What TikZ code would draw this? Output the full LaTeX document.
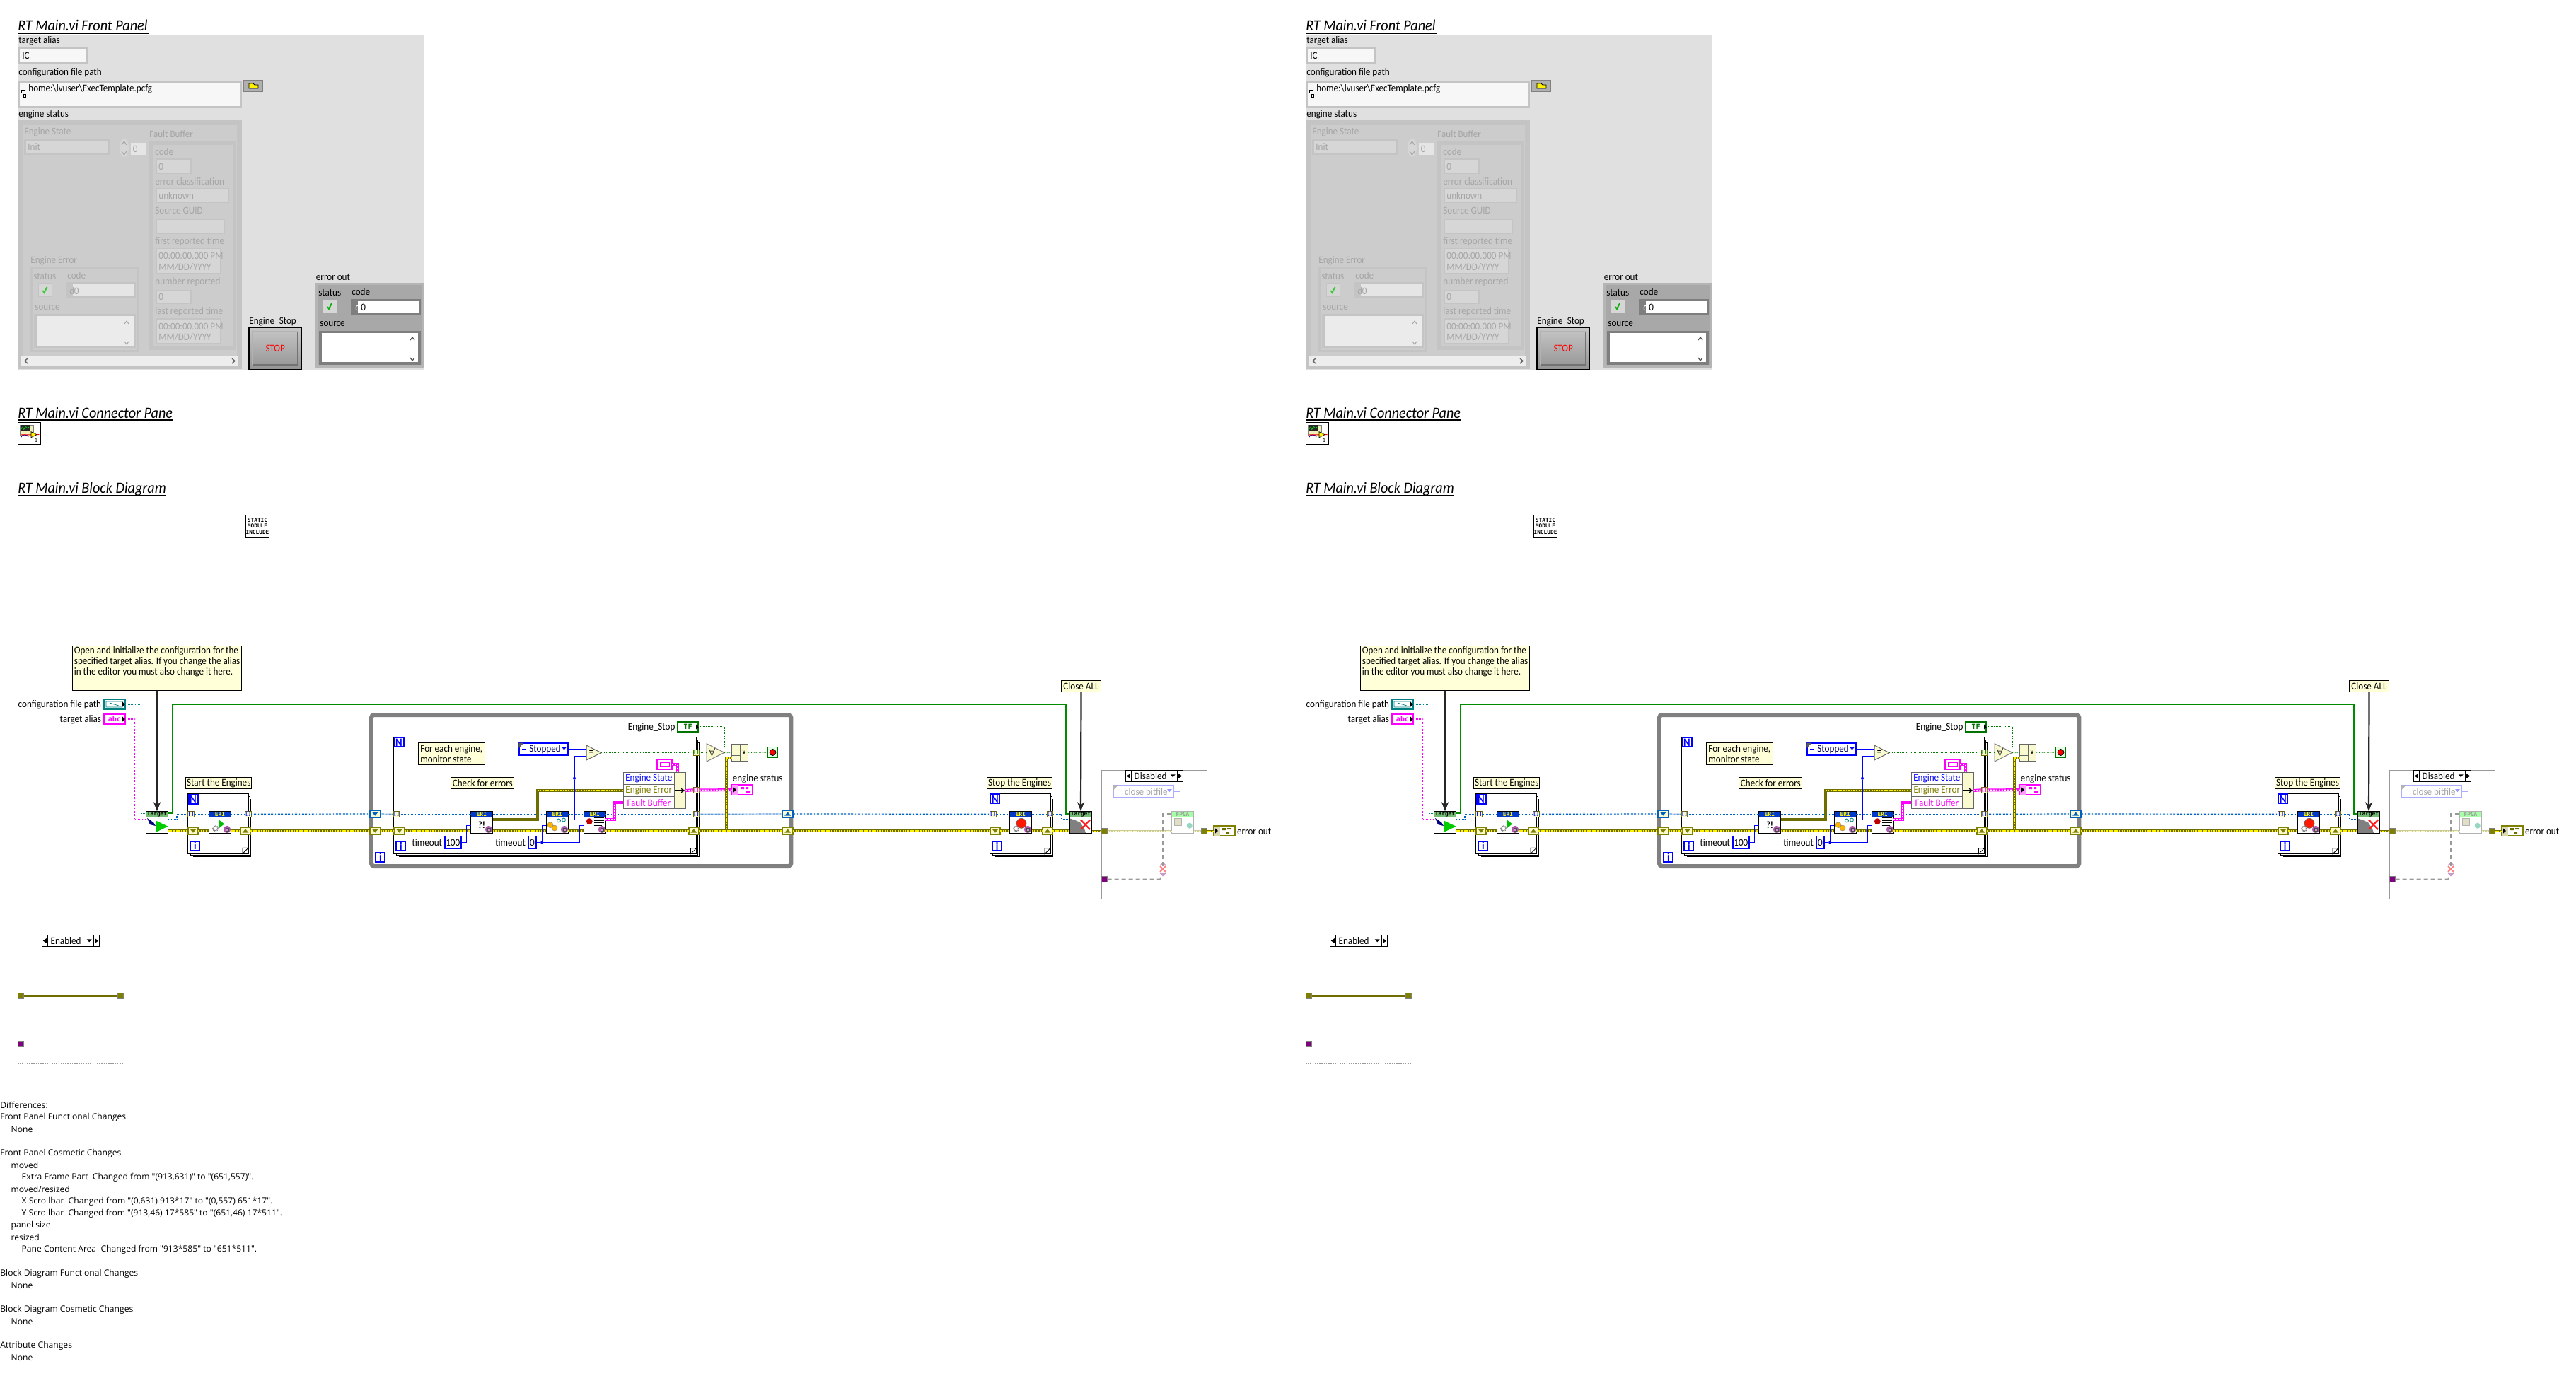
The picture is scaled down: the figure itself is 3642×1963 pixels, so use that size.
\documentclass[tikz,border=0pt]{standalone}
\usepackage{fontspec}
\setmainfont{Carlito}[FakeStretch=0.91]
\newfontfamily\difffont{Open Sans}
\newfontfamily\iconfont{DejaVu Sans Mono}
\usetikzlibrary{arrows.meta}

\definecolor{fpbg}{HTML}{E0E0E0}
\definecolor{fpbevel}{HTML}{C4C4C4}
\definecolor{fpinner}{HTML}{CCCCCC}
\definecolor{fpfield}{HTML}{D6D6D6}
\definecolor{fpghost}{HTML}{A6A6A6}
\definecolor{errgrey}{HTML}{A8A8A8}
\definecolor{notey}{HTML}{FFFFD8}
\definecolor{lvteal}{HTML}{008080}
\definecolor{lvpink}{HTML}{FF00FF}
\definecolor{lvolive}{HTML}{808000}
\definecolor{lvrefb}{HTML}{0060C0}
\definecolor{lvgreen}{HTML}{007A00}
\definecolor{lvpurple}{HTML}{800080}
\definecolor{lvbeige}{HTML}{FAFAD0}
\definecolor{lvhead}{HTML}{0038C8}
\definecolor{lvgold}{HTML}{6E6E00}

\tikzset{
  sized/.style 2 args={minimum width={(#1)*.5pt},minimum height={(#2)*.5pt},inner sep=0pt,outer sep=0pt},
  lvtext/.style={font=\fontsize{7.2}{8}\selectfont,inner sep=0pt,text=#1},
  lvtext/.default=black,
  fpt/.style={lvtext,anchor=west},
  ght/.style={lvtext=fpghost,anchor=west},
  titletext/.style={font=\fontsize{11.1}{12}\selectfont\itshape,inner sep=0pt,anchor=base west},
  difftext/.style={font=\difffont\fontsize{6.05}{7}\selectfont,inner sep=0pt,anchor=west},
  lvnote/.style={draw=black,fill=notey,line width=.5pt,font=\fontsize{7.2}{7.5}\selectfont,inner sep=0pt},
  ctbox/.style={draw=blue,line width=1pt,fill=white,text=blue,font=\fontsize{8}{9}\selectfont\bfseries,sized={13}{13}},
  viicon/.style={draw=black,fill=white,line width=.5pt,sized={31.4}{31.4}},
  tunbox/.style={draw=#1,fill=lvbeige,line width=.5pt,sized={7.6}{7.6},font=\iconfont\fontsize{3.6}{4}\bfseries\selectfont,text=blue},
  tunbox/.default=lvgold,
  srnode/.style={draw=#1,fill=lvbeige,line width=1pt,sized={14.5}{10}},
  term/.style={draw=#1,fill=white,line width=1pt,sized={29.5}{13.8}},
  datatun/.style={draw=#1,fill=#1,sized={8.4}{8.4}},
  wireblue/.style={draw=blue,line width=.6pt},
  wireref/.style={draw=lvrefb,line width=.6pt,dash pattern=on .5pt off .5pt},
  wireteal/.style={draw=lvteal,line width=.6pt,dash pattern=on .6pt off .4pt},
  wirepath/.style={draw=lvpink,line width=.7pt,dash pattern=on .6pt off .4pt},
  wirebool/.style={draw=lvgreen,line width=.6pt,dash pattern=on .5pt off .6pt},
  wiregreen/.style={draw=green!55!black,line width=.55pt},
  wireerr/.style={draw=lvgold,line width=1.9pt,postaction={draw=yellow,line width=.8pt,dash pattern=on 1pt off .8pt}},
  wireghost/.style={draw=lvolive!40,line width=1.9pt,postaction={draw=lvbeige,line width=.8pt,dash pattern=on 1pt off .8pt}},
  wirepink/.style={draw=lvpink,line width=2pt,postaction={draw=white,line width=.7pt,dash pattern=on 1pt off 1pt}},
  wirenote/.style={draw=black!85,line width=1.1pt,-{Stealth[length=6.5pt,width=5pt]}},
  jdot/.style={circle,fill=#1,sized={4}{4}},
}

% a stacked loop with its N and i
\newcommand{\lvloop}[5]{
  \draw[fill=white,line width=.5pt] ({#2+8},{#3+8}) rectangle ({#4+3.6},{#5+4.2});
  \draw[fill=white,line width=.5pt] ({#2+4},{#3+4}) rectangle ({#4+2},{#5+2.2});
  \draw ({(#2+#4)/2},{(#3+#5)/2}) node[draw=black,fill=white,line width=.5pt,sized={#4-#2}{#5-#3}] (#1) {};
  \draw[fill=white,line width=.4pt] ({#4-8},#5) -- (#4,{#5-8}) -- ({#4-8},{#5-8}) -- cycle;
  \draw ({#2+7.6},{#3+7.6}) node[ctbox] (#1-N) {N};
  \draw ({#2+10.4},{#5-11}) node[ctbox] (#1-i) {i};
}
% shift register, #5 is 1 for down and -1 for up
\newcommand{\lvreg}[5]{
  \draw (#2,#3) node[srnode=#4] (#1) {};
  \fill[#4] ({#2-4.5},{#3-2.6*#5}) -- ({#2+4.5},{#3-2.6*#5}) -- (#2,{#3+2.6*#5}) -- cycle;
}
% small vi with a coloured header
\newcommand{\lvvi}[7]{
  \draw (#2,#3) node[viicon,draw=#4] (#1) {};
  \filldraw[fill=#5,draw=#4,line width=.5pt] ({#2-15.7},{#3-15.7}) rectangle ({#2+15.7},{#3-7.4});
  \draw (#2,{#3-11.5}) node[font=\iconfont\fontsize{3.9}{4}\bfseries\selectfont,text=#6,inner sep=0pt] (#1-t) {#7};
}
\newcommand{\lvcog}[2]{
  \fill[violet!65] (#1,#2) circle (2.6pt);
  \draw[black!70,line width=.3pt,fill=violet!40] ({#1-2.2},{#2-2}) rectangle ({#1+2.2},{#2+2.4});
}
% frame selector
\newcommand{\lvsel}[5]{
  \draw ({(#2+#3)/2},#4) node[draw=black,fill=white,line width=.5pt,sized={#3-#2}{16}] (#1) {};
  \draw[line width=.5pt] ({#2+8.3},{#4-8}) -- ({#2+8.3},{#4+8});
  \draw[line width=.5pt] ({#3-8.3},{#4-8}) -- ({#3-8.3},{#4+8});
  \fill ({#2+1.5},#4) -- ({#2+6.5},{#4-3.4}) -- ({#2+6.5},{#4+3.4}) -- cycle;
  \fill ({#3-1.5},#4) -- ({#3-6.5},{#4-3.4}) -- ({#3-6.5},{#4+3.4}) -- cycle;
  \fill ({#3-18},{#4-2.2}) -- ({#3-11},{#4-2.2}) -- ({#3-14.5},{#4+1.8}) -- cycle;
  \draw ({#2+12},#4) node[lvtext,anchor=west] (#1-t) {#5};
}
\newcommand{\lvbevel}[7]{
  \fill[#5] (#1,#2) rectangle (#3,#4);
  \fill[#6] ({#1+#7},{#2+#7}) rectangle ({#3-#7},{#4-#7});
}
\newcommand{\lvcheck}[3]{
  \draw[#3,line width=.9pt] ({#1-3},{#2+1}) -- ({#1-1},{#2+4}) -- ({#1+3},{#2-4});
}

\begin{document}
\begin{tikzpicture}[x=.5pt,y=-.5pt]
\useasboundingbox (0,0) rectangle (3642,1963);
\foreach \p/\dx in {L/0,R/1821}{
\begin{scope}[shift={(\dx,0)}]

% front panel
\draw (25,44) node[titletext] (\p-fptitle) {RT Main.vi Front Panel};
\fill (25,45.8) rectangle (210,47.6);
\fill[fpbg] (25,49) rectangle (600,522.7);
\draw (26,58) node[fpt] (\p-fpa) {target alias};
\lvbevel{25}{66.5}{124.5}{90}{fpbevel}{white!97!black}{3.2}
\draw (31,78.5) node[fpt] (\p-fpb) {IC};
\draw (26,103) node[fpt] (\p-fpc) {configuration file path};
\lvbevel{25}{113.6}{342}{153}{fpbevel}{white!97!black}{3}
\fill[white!97!black] (37.5,117) rectangle (339,150);
\draw (40,126) node[fpt] (\p-fpd) {home:\textbackslash lvuser\textbackslash ExecTemplate.pcfg};
\draw[line width=.5pt] (30,128) rectangle (35,132) (32.5,132) -- (32.5,134) (33,134) rectangle (36,138);
\filldraw[fill=fpbevel!90!black,draw=black!50,line width=.3pt] (344.5,113) rectangle (371.5,129.5);
\filldraw[fill=yellow,draw=black,line width=.4pt] (352,118) -- (358,118) -- (360,120) -- (365,120) -- (365,125) -- (352,125) -- cycle;
\draw (26,162) node[fpt] (\p-fpe) {engine status};

\lvbevel{25}{170.5}{342}{521.7}{fpbevel}{fpinner}{7}
\fill[white!93!black] (29,503) rectangle (337,518);
\draw[line width=.7pt,black!60] (39,507) -- (35,510.5) -- (39,514) (328,507) -- (332,510.5) -- (328,514);
\draw (34,187) node[ght] (\p-fpf) {Engine State};
\lvbevel{34}{197}{155}{218.7}{fpbevel}{fpfield}{2.5}
\draw (39,208) node[ght] (\p-fpg) {Init};
\fill[fpfield] (175.5,209) ellipse (6.5 and 13);
\draw[fpghost,line width=.5pt] (172,205) -- (175.5,200) -- (179,205) (172,214) -- (175.5,219) -- (179,214);
\fill[white!90!black] (185,202.5) rectangle (207,219);
\draw (187.5,210.4) node[ght] (\p-fph) {0};

\draw (211,190) node[ght] (\p-fpi) {Fault Buffer};
\lvbevel{211}{199.7}{334}{495}{fpbevel}{fpinner}{5.5}
\draw (219,215) node[ght] (\p-fbcode) {code};
\lvbevel{220}{224.5}{270.6}{246}{fpbevel}{fpinner!80!white}{1.5}
\draw (224,236) node[ght] (\p-fbcodev) {0};
\draw (219,257) node[ght] (\p-fbcls) {error classification};
\lvbevel{220}{266}{324}{287.5}{fpbevel}{fpinner!80!white}{1.5}
\draw (224,277) node[ght] (\p-fbclsv) {unknown};
\draw (219,298) node[ght] (\p-fbgid) {Source GUID};
\lvbevel{220}{310}{317.5}{331}{fpbevel}{fpinner!80!white}{1.5}
\draw (219,342) node[ght] (\p-fbfirst) {first reported time};
\lvbevel{220}{351}{312}{387.4}{fpbevel}{fpinner!80!white}{1.5}
\draw (224,362) node[ght] (\p-fbfirsta) {00:00:00.000 PM};
\draw (224,378) node[ght] (\p-fbfirstb) {MM/DD/YYYY};
\draw (219,399) node[ght] (\p-fbnum) {number reported};
\lvbevel{220}{410}{270.6}{430.5}{fpbevel}{fpinner!80!white}{1.5}
\draw (224,419.4) node[ght] (\p-fbnumv) {0};
\draw (219,441) node[ght] (\p-fblast) {last reported time};
\lvbevel{220}{450.4}{312}{486.6}{fpbevel}{fpinner!80!white}{1.5}
\draw (224,461.4) node[ght] (\p-fblasta) {00:00:00.000 PM};
\draw (224,476.6) node[ght] (\p-fblastb) {MM/DD/YYYY};

\draw (43,369) node[ght] (\p-eetitle) {Engine Error};
\lvbevel{43}{378}{197}{497.6}{fpbevel}{fpinner}{3}
\draw (47,391) node[ght] (\p-eest) {status};
\draw (95,390) node[ght] (\p-eecode) {code};
\filldraw[fill=fpfield,draw=fpbevel,line width=.5pt] (54,401) rectangle (73,419.4);
\lvcheck{63.5}{410}{green!60!gray}
\lvbevel{94}{399.4}{192}{422}{fpbevel}{white!90!black}{3}
\fill[fpbevel] (94,399.4) rectangle (103,422);
\draw (98,411.5) node[ght] (\p-eed) {d};
\draw (104.5,411.5) node[ght] (\p-eeval) {0};
\draw (49,435) node[ght] (\p-eesrc) {source};
\lvbevel{48}{444}{192}{492.4}{fpbevel}{white!92!black}{3.5}
\draw[fpghost,line width=.5pt] (176,458) -- (179,454) -- (182,458) (176,483) -- (179,487) -- (182,483);

\draw (352,455) node[fpt] (\p-esl) {Engine\_Stop};
\draw (389.2,492.8) node[draw=black,top color=black!22,bottom color=black!42,line width=.7pt,sized={74.5}{59.7},text=red,font=\fontsize{7.2}{8}\selectfont] (\p-esb) {STOP};
\draw[white!70!black,line width=.6pt] (357,516) -- (357,469) -- (421,469);
\draw[black!55,line width=.6pt] (357,516) -- (421,516) -- (421,469);
\draw (446.5,392) node[fpt] (\p-erl) {error out};
\lvbevel{445}{400}{599}{520}{errgrey!85!white}{errgrey}{3.5}
\draw (450,414) node[fpt] (\p-erst) {status};
\draw (497,413) node[fpt] (\p-ercd) {code};
\filldraw[fill=fpfield,draw=black!35,line width=.5pt] (456,423.5) rectangle (476,442.5);
\lvcheck{466}{433}{green!70!black}
\lvbevel{496}{423}{595}{446}{errgrey!75!black}{white}{3}
\fill[errgrey!75!black] (496,423) rectangle (506,446);
\draw (502,434.6) node[lvtext=white,anchor=west] (\p-erd) {d};
\draw (510,434.6) node[fpt] (\p-erval) {0};
\draw (452,458) node[fpt] (\p-ersr) {source};
\lvbevel{451}{467.6}{595}{516}{errgrey!75!black}{white}{3.6}
\draw[black!70,line width=.6pt] (580,481) -- (583,477) -- (586,481) (580,506) -- (583,510) -- (586,506);

% connector pane
\draw (25,591.7) node[titletext] (\p-cptitle) {RT Main.vi Connector Pane};
\fill (25,593.4) rectangle (244,595.6);
\draw (41,613) node[draw=black,fill=white,line width=.5pt,sized={32}{31.4}] (\p-cpane) {};
\filldraw[fill=black!20!yellow!30!white,draw=black!50,line width=.2pt] (28.6,600.7) rectangle (47,616);
\fill[black!85] (29.4,601.3) rectangle (41.6,610);
\draw[green,line width=.3pt] (30,607) .. controls (32,600) and (33,612) .. (35,605) .. controls (37,600) and (38,610) .. (41,604);
\draw[blue!70!black,line width=.5pt] (30,618) arc (180:360:5 and 3);
\draw[red,line width=.5pt] (30,615) -- (55.5,614.7);
\filldraw[fill=yellow,draw=black,line width=.3pt] (44,610.7) -- (52,614.7) -- (44,618.7) -- cycle;
\draw (51,622.7) node[font=\fontsize{4.4}{5}\selectfont,inner sep=0pt] (\p-cpn) {1};

% block diagram
\draw (25,697.7) node[titletext] (\p-bdtitle) {RT Main.vi Block Diagram};
\fill (25,699.6) rectangle (235,702);
\draw (364,744) node[draw=black,fill=white,line width=.5pt,sized={31.6}{32},font=\iconfont\fontsize{3.9}{4.4}\bfseries\selectfont,align=center] (\p-incl) {STATIC\\MODULE\\INCLUDE};

% notes
\draw (222.2,945) node[lvnote,sized={239.5}{63.4}] (\p-note) {};
\draw (104.5,914.5) node[lvtext,anchor=north west,align=left,font=\fontsize{7.2}{7.5}\selectfont] (\p-notet) {Open and initialize the configuration for the\\specified target alias. If you change the alias\\in the editor you must also change it here.};
\draw (309.3,1107.5) node[lvnote,sized={92.7}{16.4}] (\p-nstart) {Start the Engines};
\draw (1441.5,1107.5) node[lvnote,sized={92.4}{16.4}] (\p-nstop) {Stop the Engines};
\draw (1528.5,970.5) node[lvnote,sized={56.4}{16.4}] (\p-nclose) {Close ALL};

% terminals
\draw (143.5,996.7) node[lvtext,anchor=east] (\p-cfgl) {configuration file path};
\draw (143.5,1017.7) node[lvtext,anchor=east] (\p-alil) {target alias};
\draw (162,996) node[term=lvteal] (\p-cfg) {};
\draw[lvteal,line width=.4pt] (150,992) rectangle (173,1000) (155,994) -- (168,998);
\draw (162,1017) node[term=lvpink,font=\iconfont\fontsize{5}{6}\bfseries\selectfont,text=lvpink] (\p-ali) {abc};
\fill (173,992.5) -- (177,996) -- (173,999.5) -- cycle;
\fill (173,1013.5) -- (177,1017) -- (173,1020.5) -- cycle;

% open target
\lvvi{\p-open}{222}{1163}{black}{green!35!gray!80!white}{black}{Target}
\fill[blue!50!black] (208,1157) -- (217,1163) -- (220,1168) -- (212,1166) -- cycle;
\fill[green!80!black] (220.7,1160.7) -- (237.5,1168.7) -- (220.7,1176.7) -- cycle;

% start loop
\lvloop{\p-sloop}{265.4}{1122.7}{351}{1207.3}
\draw (270,1151.3) node[tunbox] (\p-stunl) {[]};
\draw (350.8,1151.3) node[tunbox] (\p-stunr) {[]};
\lvreg{\p-syl}{273}{1175}{lvolive}{1}
\lvreg{\p-syr}{347}{1175}{lvolive}{-1}
\lvvi{\p-eris}{311}{1163}{black}{lvhead}{yellow}{ERI}
\fill[green!75!black] (309,1159) -- (317,1165.3) -- (309,1171.7) -- cycle;
\draw[gray,line width=.9pt,dash pattern=on .6pt off .4pt] (304.6,1171.7) circle (3.5);
\lvcog{321}{1173}

% outer while
\draw (821.7,1118) node[draw=black!50,line width=3pt,fill=white,rounded corners=2pt,sized={593.5}{214}] (\p-wloop) {};
\draw (537.8,1212) node[ctbox] (\p-wloopi) {i};
\lvreg{\p-bll}{530.3}{1151}{lvrefb}{1}
\lvreg{\p-yll}{530.3}{1175}{lvolive}{1}
\lvreg{\p-blr}{1113.7}{1151}{lvrefb}{-1}
\lvreg{\p-ylr}{1113.7}{1175}{lvolive}{-1}

% monitor loop
\lvloop{\p-mloop}{556.4}{1042.3}{984.4}{1207.7}
\draw (560.5,1151.3) node[tunbox] (\p-mtunl) {[]};
\draw (984.4,1151.3) node[tunbox] (\p-mtunr) {[]};
\draw (984.4,1064.5) node[tunbox,text=lvgreen] (\p-mtung) {[]};
\draw (984.4,1117.3) node[tunbox,text=lvpink] (\p-mtunp) {[]};
\lvreg{\p-myl}{564.5}{1175}{lvolive}{1}
\lvreg{\p-myr}{980.9}{1175}{lvolive}{-1}
\draw (638.3,1066) node[lvnote,sized={94.6}{31.4},align=left] (\p-nmon) {For each engine,\\monitor state};
\draw (682.3,1107.5) node[lvnote,sized={88.7}{16.4}] (\p-ncheck) {Check for errors};

\lvvi{\p-era}{681}{1163}{black}{lvhead}{yellow}{ERI}
\draw (681,1166.7) node[font=\fontsize{7}{8}\bfseries\selectfont,inner sep=0pt] (\p-eraq) {?!};
\lvcog{691}{1173}
\lvvi{\p-erb}{787.7}{1163}{black}{lvhead}{yellow}{ERI}
\filldraw[fill=orange!60!yellow,draw=black!50,line width=.2pt] (778,1166.7) circle (4) (784,1171) circle (4);
\draw[teal,line width=.4pt] (790,1160.5) circle (2.5) (797,1159.5) circle (2.5);
\lvcog{798}{1173}
\lvvi{\p-erc}{840.7}{1163}{black}{lvhead}{yellow}{ERI}
\fill[red!75!black] (833.3,1161.7) circle (2.2pt);
\draw[black,line width=.5pt] (839.5,1156.5) -- (854,1156.5) (839.5,1160) -- (854,1160) (839.5,1163.5) -- (854,1163.5) (839.5,1167) -- (851,1167);
\lvcog{851}{1173}

\draw (625.5,1191.7) node[lvtext,anchor=east] (\p-tola) {timeout};
\draw (640.3,1191.4) node[ctbox,line width=.9pt,font=\fontsize{7.2}{8}\selectfont,text=black,sized={23}{17.7}] (\p-tocna) {100};
\draw (743.3,1191.7) node[lvtext,anchor=east] (\p-tolb) {timeout};
\draw (752.4,1191.4) node[ctbox,line width=.9pt,font=\fontsize{7.2}{8}\selectfont,text=black,sized={10.8}{17.7}] (\p-tocnb) {0};
\coordinate (\p-erain) at (665.5,1167.3);
\coordinate (\p-erbin) at (772,1167.3);
\coordinate (\p-ercin) at (825,1167.3);
\coordinate (\p-eraout) at (696.7,1159.3);
\coordinate (\p-erbout) at (803.4,1159.3);
\coordinate (\p-ercout) at (856.4,1159);
\draw (766.2,1191.4) node[jdot=blue] (\p-jto) {};
\draw (812,1100.8) node[jdot=blue] (\p-jst) {};

\draw (768.6,1059.7) node[draw=blue,fill=white,line width=1pt,sized={69.4}{17},lvtext,anchor=center,text=blue!40!black] (\p-enum) {\hspace{2pt}Stopped\hspace{8pt}};
\fill[black!65] (733.4,1050.7) -- (740.5,1050.7) -- (733.4,1058) -- cycle;
\fill[blue] (794,1056.5) -- (801,1056.5) -- (797.5,1060.5) -- cycle;
\draw[blue,line width=.5pt] (738,1059.7) -- (743,1059.7);
\filldraw[fill=lvbeige,draw=black!60,line width=.5pt] (829,1054) -- (850,1064.7) -- (829,1075) -- cycle;
\draw (836,1064.7) node[font=\fontsize{7}{8}\bfseries\selectfont,inner sep=0pt] (\p-eqs) {=};
\coordinate (\p-eqa) at (829,1059.7);
\coordinate (\p-eqb) at (829,1069.7);
\coordinate (\p-eqo) at (850,1064.5);

% state unbundle
\draw (917.3,1100.8) node[draw=black!60,fill=white,line width=.5pt,sized={72}{17.2},lvtext,anchor=center,text=blue] (\p-rowa) {Engine State};
\draw (917.3,1118) node[draw=black!60,fill=white,line width=.5pt,sized={72}{17.2},lvtext,anchor=center,text=lvolive] (\p-rowb) {Engine Error};
\draw (917.3,1135.2) node[draw=black!60,fill=white,line width=.5pt,sized={72}{17.2},lvtext,anchor=center,text=lvpink] (\p-rowc) {Fault Buffer};
\draw (957.5,1118) node[draw=black!60,fill=lvbeige,line width=.5pt,sized={8.4}{51.4}] (\p-unba) {};
\draw (965.5,1118) node[draw=black!60,fill=lvbeige,line width=.5pt,sized={7.6}{51.4}] (\p-unbb) {};
\draw[black,line width=1pt,-{Stealth[length=3pt,width=3.5pt]}] (954.5,1118) -- (968.5,1118);
\draw (939.6,1081) node[term=lvpink,sized={21.7}{14.7}] (\p-ccst) {};
\draw[lvpink,line width=.4pt] (933,1078) rectangle (946,1084);

% engine stop and status
\draw (954.8,1029) node[lvtext,anchor=east] (\p-estopl) {Engine\_Stop};
\draw (972.7,1027.8) node[term=green!45!black,font=\iconfont\fontsize{5}{6}\bfseries\selectfont,text=green!45!black] (\p-estop) {TF};
\fill (984,1024.5) -- (988,1028) -- (984,1031.5) -- cycle;
\filldraw[fill=lvbeige,draw=black!50,line width=.5pt] (999,1051.7) -- (1024,1064.3) -- (999,1077) -- cycle;
\draw (1006.5,1064.4) node[font=\fontsize{8}{9}\selectfont,inner sep=0pt] (\p-ands) {$\forall$};
\coordinate (\p-anda) at (999,1064.5);
\coordinate (\p-ando) at (1024,1064.5);
\draw (1045.8,1064.3) node[draw=black!60,fill=lvbeige,line width=.5pt,sized={23.6}{24}] (\p-org) {};
\draw[black!60,line width=.5pt] (1046.5,1052.3) -- (1046.5,1076.3) (1034,1060.3) -- (1046.5,1060.3) (1034,1068.3) -- (1046.5,1068.3);
\draw (1052,1064) node[font=\fontsize{5}{6}\bfseries\selectfont,inner sep=0pt] (\p-orv) {v};
\coordinate (\p-orb) at (1034,1056.7);
\coordinate (\p-orc) at (1034,1072);
\draw (1092.5,1064) node[draw=green!45!black,fill=green!10,line width=.7pt,sized={14.5}{15.5}] (\p-stopn) {};
\filldraw[fill=red,draw=black,line width=.4pt] (1092.5,1064) circle (4.5);
\draw (1035.4,1101.3) node[fpt] (\p-statl) {engine status};
\draw (1049.7,1117.2) node[term=lvpink] (\p-stat) {};
\fill[lvpink!40] (1035,1110) rectangle (1044,1124.5);
\fill (1037,1113.5) -- (1041,1117) -- (1037,1120.5) -- cycle;
\fill[lvpink] (1047,1113) rectangle (1052,1116) (1055,1113) rectangle (1058,1116) (1055,1118) rectangle (1061,1121);
\draw (1027,1175.2) node[jdot=black] (\p-jerr) {};

% stop loop
\lvloop{\p-tloop}{1399.3}{1122.3}{1485}{1207.7}
\draw (1403.8,1151.3) node[tunbox] (\p-ttunl) {[]};
\draw (1484.5,1151.3) node[tunbox] (\p-ttunr) {[]};
\lvreg{\p-tyl}{1407}{1175}{lvolive}{1}
\lvreg{\p-tyr}{1481}{1175}{lvolive}{-1}
\lvvi{\p-ert}{1443}{1163}{black}{lvhead}{yellow}{ERI}
\filldraw[fill=red!80!orange,draw=black!60,line width=.3pt] (1444,1164.3) circle (7);
\draw[gray,line width=.9pt,dash pattern=on .6pt off .4pt] (1436.5,1172) circle (3.5);
\lvcog{1453}{1173}

% close target
\lvvi{\p-close}{1528}{1163}{black}{green!35!gray!80!white}{black}{Target}
\fill[gray] (1513,1157.5) -- (1520,1160) -- (1527,1163) -- (1533,1172) -- (1535,1178) -- (1513,1178) -- cycle;
\draw[red!85!pink,line width=1.1pt] (1528,1159.5) -- (1541,1173) (1541,1159.5) -- (1528,1173);
\coordinate (\p-opg) at (237.5,1150);
\coordinate (\p-opb) at (237.5,1158.7);
\coordinate (\p-opt) at (206.4,1150.7);
\coordinate (\p-opp) at (206.4,1158.7);
\coordinate (\p-clg) at (1512.3,1151);
\coordinate (\p-clb) at (1512.3,1159);

% disabled frame
\draw (1632,1180.5) node[draw=gray!80,line width=.6pt,fill=white,sized={149.4}{182.4}] (\p-dis) {};
\lvsel{\p-dissel}{1591.3}{1672.7}{1097.5}{Disabled}
\draw (1616.3,1119.5) node[draw=blue!33,fill=white,line width=1pt,sized={85}{17.4},lvtext,anchor=center,text=gray!70] (\p-bit) {\hspace{4pt}close bitfile\hspace{6pt}};
\fill[gray!60] (1573.3,1110.3) -- (1581,1110.3) -- (1573.3,1118) -- cycle;
\fill[blue!40] (1650,1116) -- (1657,1116) -- (1653.5,1120) -- cycle;
\lvvi{\p-fpga}{1672}{1163}{gray!60}{green!35!white}{gray!80}{FPGA}
\filldraw[fill=yellow!30!gray!40,draw=gray!60,line width=.3pt] (1660,1157.5) rectangle (1670,1167.5);
\fill[blue!40!green!40] (1681.7,1167.7) circle (4);
\coordinate (\p-fpgb) at (1668.3,1147.3);
\coordinate (\p-fpge) at (1656.3,1151);
\draw (1561.5,1175.5) node[datatun=lvolive,draw=black!50] (\p-dtl) {};
\draw (1702.5,1175.5) node[datatun=lvolive,draw=black!50] (\p-dtr) {};
\draw (1561.5,1243.3) node[datatun=lvpurple,draw=black!50] (\p-dtp) {};
\draw (1644,1229.3) node[inner sep=0pt,sized={8}{8}] (\p-xn) {};
\fill[lvpurple!40] (1639.5,1223.5) -- (1648.5,1223.5) -- (1644,1219) -- cycle (1639.5,1235) -- (1648.5,1235) -- (1644,1239.5) -- cycle;
\draw[red!50,line width=1pt] (1640,1225) -- (1648,1233) (1648,1225) -- (1640,1233);
\draw (1731,1175) node[term=lvolive] (\p-eout) {};
\fill[lvolive!30] (1716.5,1168.5) rectangle (1725,1181.5);
\fill (1718,1171.5) -- (1722,1175) -- (1718,1178.5) -- cycle;
\fill[lvgold] (1727,1171) rectangle (1733,1174) (1735,1171) rectangle (1741,1173) (1734,1176) rectangle (1738,1179);
\draw (1748.7,1176.3) node[fpt] (\p-eoutl) {error out};

% enabled frame
\draw (100,1413.5) node[draw=gray!80,line width=.5pt,dash pattern=on .8pt off .8pt,fill=white,sized={150}{182}] (\p-ena) {};
\lvsel{\p-enasel}{59.3}{140.7}{1330.5}{Enabled}
\draw (29.6,1408.5) node[datatun=lvolive,draw=black!50] (\p-etl) {};
\draw (170.4,1408.5) node[datatun=lvolive,draw=black!50] (\p-etr) {};
\draw (29.6,1476.5) node[datatun=lvpurple,draw=black!50] (\p-etp) {};

% wires
\draw[wireteal] (\p-cfg.east) -- ++(22.5,0) |- (\p-opt);
\draw[wirepath] (\p-ali.east) -- ++(14,0) |- (\p-opp);
\draw[wirenote] (\p-note.south) -- (\p-open.north);
\draw[wirenote] (\p-nclose.south) -- (\p-close.north);
\draw[wiregreen] (\p-opg) -- ++(6.1,0) |- (1507,996) |- (\p-clg);
\draw[wireref] (\p-opb) -- ++(12.5,0) |- (\p-stunl.west);
\draw[wireref] (\p-stunl.east) -- (\p-stunl.east -| \p-eris.west);
\draw[wireref] (\p-eris.east |- \p-stunr.west) -- (\p-stunr.west);
\draw[wireref] (\p-stunr.east) -- (\p-bll.west);
\draw[wireref] (\p-bll.east) -- (\p-mtunl.west);
\draw[wireref] (\p-mtunl.east) -- (\p-mtunl.east -| \p-era.west);
\draw[wireref] (\p-era.east |- \p-mtunl.east) -- (\p-mtunl.east -| \p-erb.west);
\draw[wireref] (\p-erb.east |- \p-mtunl.east) -- (\p-mtunl.east -| \p-erc.west);
\draw[wireref] (\p-erc.east |- \p-mtunr.west) -- (\p-mtunr.west);
\draw[wireref] (\p-mtunr.east) -- (\p-blr.west);
\draw[wireref] (\p-blr.east) -- (\p-ttunl.west);
\draw[wireref] (\p-ttunl.east) -- (\p-ttunl.east -| \p-ert.west);
\draw[wireref] (\p-ert.east |- \p-ttunr.west) -- (\p-ttunr.west);
\draw[wireref] (\p-ttunr.east) -- ++(12.2,0) |- (\p-clb);

\draw[wireerr] (\p-open.east |- \p-syl.west) -- (\p-syl.west);
\draw[wireerr] (\p-syl.east) -- (\p-syl.east -| \p-eris.west);
\draw[wireerr] (\p-eris.east |- \p-syr.west) -- (\p-syr.west);
\draw[wireerr] (\p-syr.east) -- (\p-yll.west);
\draw[wireerr] (\p-yll.east) -- (\p-myl.west);
\draw[wireerr] (\p-myl.east) -- (\p-myl.east -| \p-era.west);
\draw[wireerr] (\p-era.east |- \p-myl.east) -- (\p-myl.east -| \p-erb.west);
\draw[wireerr] (\p-erb.east |- \p-myl.east) -- (\p-myl.east -| \p-erc.west);
\draw[wireerr] (\p-erc.east |- \p-myr.west) -- (\p-myr.west);
\draw[wireerr] (\p-myr.east) -- (\p-ylr.west);
\draw[wireerr] (\p-ylr.east) -- (\p-tyl.west);
\draw[wireerr] (\p-tyl.east) -- (\p-tyl.east -| \p-ert.west);
\draw[wireerr] (\p-ert.east |- \p-tyr.west) -- (\p-tyr.west);
\draw[wireerr] (\p-tyr.east) -- (\p-tyr.east -| \p-close.west);
\draw[wireerr] (\p-close.east |- \p-dtl.west) -- (\p-dtl.west);
\draw[wireerr] (\p-dtr.east) -- (\p-dtr.east -| \p-eout.west);
\draw[wireerr] (\p-eraout) -- ++(63.6,0) |- (\p-rowb.west);
\draw[wireghost] (\p-dtl.east) -- (\p-dtl.east -| \p-fpga.west);
\draw[wireghost] (\p-fpga.east |- \p-dtr.west) -- (\p-dtr.west);
\draw[wireerr] (\p-etl.east) -- (\p-etr.west);

\draw[wireblue] (\p-tocna.east) -- ++(8,0) |- (\p-erain);
\draw[wireblue] (\p-tocnb.east) -- (\p-jto);
\draw[wireblue] (\p-jto) |- (\p-erbin);
\draw[wireblue] (\p-jto) -- ++(53,0) |- (\p-ercin);
\draw[wireblue] (\p-enum.east) -- (\p-eqa);
\draw[wireblue] (\p-erbout) -| (\p-jst);
\draw[wireblue] (\p-jst) |- (\p-eqb);
\draw[wireblue] (\p-jst) -- (\p-rowa.west);
\draw[wirebool] (\p-eqo) -- (\p-mtung.west);
\draw[wirebool] (\p-mtung.east) -- (\p-anda);
\draw[wirebool] (\p-ando) -- (\p-org.west);
\draw[wirebool] (\p-org.east) -- (\p-stopn.west);
\draw[wirebool] (\p-estop.east) -- ++(37.1,0) |- (\p-orb);
\draw[wirepink] (\p-ccst.east) -| (\p-unba.north);
\draw[wirepink] (\p-unbb.east) -- (\p-mtunp.west);
\draw[wirepink] (\p-mtunp.east) -- (\p-stat.west);
\draw[wirepink] (\p-ercout) -- ++(12.6,0) |- (\p-rowc.west);
\draw[wireerr] (\p-jerr) |- (\p-orc);
\draw[blue!33,line width=.6pt] (\p-bit.east) -| (\p-fpgb);
\draw[gray!80,line width=.8pt,dash pattern=on 3pt off 2pt] (\p-dtp.east) -- (1640,1243.3) -- (1644,1239.5);
\draw[gray!80,line width=.8pt,dash pattern=on 3pt off 2pt] (\p-xn.north) -- (1644,1151) -- (\p-fpge);

% differences
\foreach \ind/\yy/\txt [count=\k] in {0/0/{Differences:},0/1/{Front Panel Functional Changes},15.3/2/{None},
  0/4/{Front Panel Cosmetic Changes},15.3/5/{moved},30.3/6/{Extra Frame Part\ \ Changed from "(913,631)" to "(651,557)".},
  15.3/7/{moved/resized},30.3/8/{X Scrollbar\ \ Changed from "(0,631) 913*17" to "(0,557) 651*17".},
  30.3/9/{Y Scrollbar\ \ Changed from "(913,46) 17*585" to "(651,46) 17*511".},15.3/10/{panel size},15.3/11/{resized},
  30.3/12/{Pane Content Area\ \ Changed from "913*585" to "651*511".},0/14/{Block Diagram Functional Changes},15.3/15/{None},
  0/17/{Block Diagram Cosmetic Changes},15.3/18/{None},0/20/{Attribute Changes},15.3/21/{None}}{
  \ifnum\dx=0
  \draw (\ind,{1563.4+17*\yy}) node[difftext] (\p-diff\k) {\txt};
  \fi
}
\end{scope}
}
\end{tikzpicture}
\end{document}
